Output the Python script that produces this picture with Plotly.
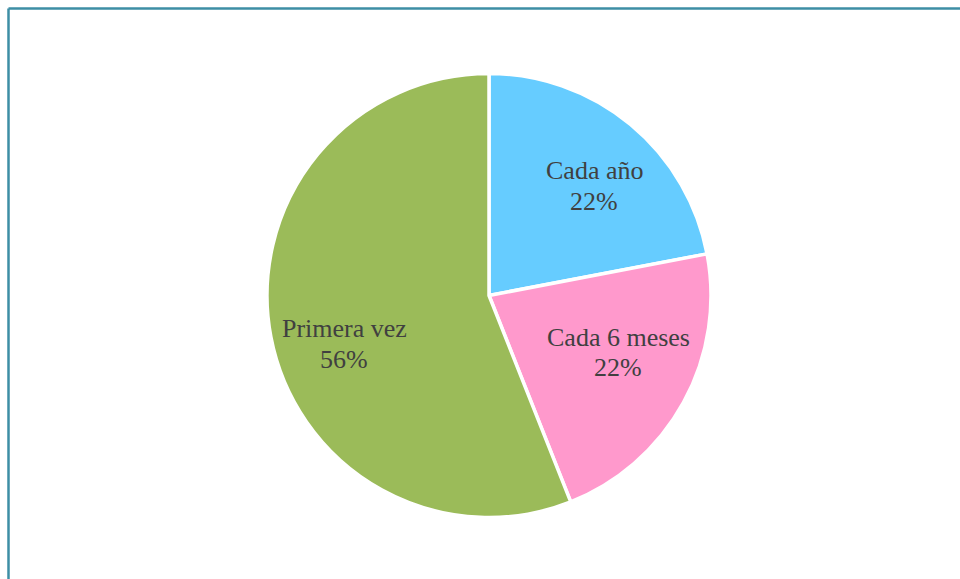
import plotly.graph_objects as go

# Frequency of visits
labels = ["Cada año", "Cada 6 meses", "Primera vez"]
values = [22, 22, 56]
colors = ["#66CCFF", "#FF99CC", "#9BBB59"]

W, H = 960, 579
cx, cy, r = 489, 295.5, 222

# Label block centres, in pixels relative to the pie centre (x right, y down)
label_offsets = [(105, -109.5), (129, 56.5), (-145, 48.5)]
line_gap = 30
font = dict(family="Liberation Serif, Times New Roman, serif", size=26, color="#404040")

fig = go.Figure(
    go.Pie(
        labels=labels,
        values=values,
        sort=False,
        direction="clockwise",
        rotation=0,
        marker=dict(colors=colors, line=dict(color="white", width=3.5)),
        textinfo="none",
        domain=dict(x=[(cx - r) / W, (cx + r) / W], y=[1 - (cy + r) / H, 1 - (cy - r) / H]),
        showlegend=False,
        hoverinfo="label+percent",
    )
)

total = sum(values)
for lab, val, (dx, dy) in zip(labels, values, label_offsets):
    px = (cx + dx) / W
    for text, shift in ((lab, -line_gap / 2), (f"{round(100 * val / total)}%", line_gap / 2)):
        fig.add_annotation(
            x=px, y=1 - (cy + dy + shift) / H, xref="paper", yref="paper",
            text=text, showarrow=False, xanchor="center", yanchor="middle",
            font=font,
        )

# Frame along the top and left edges
frame_color = "#3d8ea5"
x0 = 8.5 / W
y0 = 1 - 8.5 / H
fig.add_shape(type="line", xref="paper", yref="paper", x0=x0, x1=x0, y0=0, y1=y0,
              line=dict(color=frame_color, width=2.5))
fig.add_shape(type="line", xref="paper", yref="paper", x0=x0, x1=1, y0=y0, y1=y0,
              line=dict(color=frame_color, width=2.5))

fig.update_layout(
    width=W, height=H,
    margin=dict(l=0, r=0, t=0, b=0),
    paper_bgcolor="white",
    plot_bgcolor="white",
)

fig.write_html("out.html")
